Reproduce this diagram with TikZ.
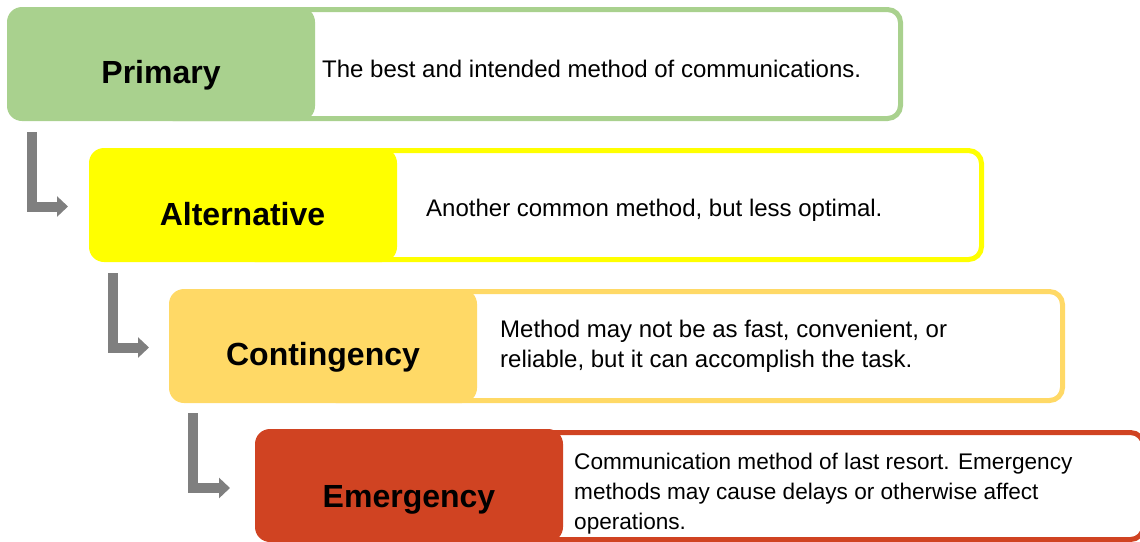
\documentclass[tikz,border=0pt]{standalone}
\usepackage{fontspec}
\setmainfont{Liberation Sans}
\usetikzlibrary{arrows.meta}
\definecolor{cprim}{HTML}{A9D18E}
\definecolor{calt}{HTML}{FFFF00}
\definecolor{ccont}{HTML}{FFD966}
\definecolor{cemer}{HTML}{D04322}
\definecolor{arrowgray}{HTML}{7F7F7F}
\begin{document}
\begin{tikzpicture}[x=1pt,y=-1pt,
  tagbox/.style={fill=#1, draw=none, rounded corners=15pt, inner sep=0pt, outer sep=0pt,
    minimum width=308pt, minimum height=114pt, anchor=north west},
  descbox/.style={draw=#1, fill=white, line width=5pt, rounded corners=13pt,
    inner sep=0pt, outer sep=0pt, minimum height=109pt, anchor=north west},
  ttl/.style={font=\fontsize{32}{38}\selectfont\bfseries, anchor=base, inner sep=0pt},
  txt/.style={font=\fontsize{24}{30}\selectfont, anchor=base west, align=left, inner sep=0pt},
  flow/.style={draw=arrowgray, line width=10pt, miter limit=10,
    -{Triangle[width=20pt,length=11pt]}}]
\useasboundingbox (0,0) rectangle (1140,541);
\clip (0,0) rectangle (1140,541);
% description frames
\node[descbox=cprim, minimum width=740.5pt] (Pd) at (160,9.5) {};
\node[descbox=calt, minimum width=739.5pt] (Ad) at (242,150.5) {};
\node[descbox=ccont, minimum width=739.5pt] (Cd) at (323,291.5) {};
\node[descbox=cemer, minimum width=734.5pt, minimum height=107pt] (Ed) at (409,432.5) {};
% coloured tags
\node[tagbox=cprim] (P) at (7,7) {};
\node[tagbox=calt] (A) at (89,148) {};
\node[tagbox=ccont] (C) at (169,289) {};
\node[tagbox=cemer, minimum height=113pt] (E) at (255,429) {};
% titles
\node[ttl] (Pt) at (161,83) {Primary};
\node[ttl] (At) at (242.5,225) {Alternative};
\node[ttl] (Ct) at (323,365) {Contingency};
\node[ttl] (Et) at (409,507) {Emergency};
% descriptions (base anchor = last line)
\node[txt] (Px) at (322,77) {The best and intended method of communications.};
\node[txt] (Ax) at (426,216) {Another common method, but less optimal.};
\node[txt] (Cx) at (500,367.5) {Method may not be as fast, convenient, or\\reliable, but it can accomplish the task.};
\node[txt, font=\fontsize{22.6}{30}\selectfont] (Ex) at (574,529) {Communication method of last resort. Emergency\\methods may cause delays or otherwise affect\\operations.};
% arrows
\coordinate (a1s) at (32,132);  \coordinate (a1e) at (68,206.5);
\coordinate (a2s) at (113,273); \coordinate (a2e) at (149,347.5);
\coordinate (a3s) at (193,413); \coordinate (a3e) at (230,488);
\draw[flow] (a1s) |- (a1e);
\draw[flow] (a2s) |- (a2e);
\draw[flow] (a3s) |- (a3e);
\end{tikzpicture}
\end{document}
